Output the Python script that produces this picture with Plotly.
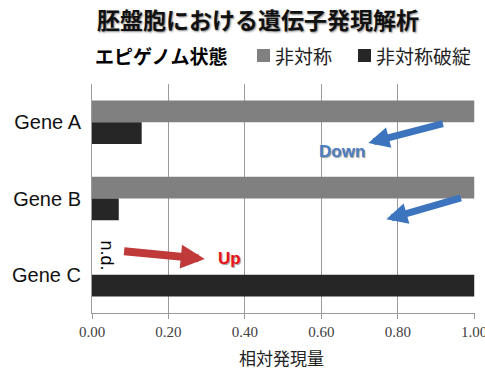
import plotly.graph_objects as go

# Data
genes = ["Gene A", "Gene B", "Gene C"]
series_names = ["非対称", "非対称破綻"]
series_colors = ["#808080", "#262626"]
asym = [1.00, 1.00, 0.00]          # 非対称 (Gene C: n.d.)
asym_broken = [0.13, 0.07, 1.00]   # 非対称破綻
x_ticks = [0.0, 0.2, 0.4, 0.6, 0.8, 1.0]
x_tick_labels = ["0.00", "0.20", "0.40", "0.60", "0.80", "1.00"]

JP = "Noto Sans CJK JP"
W, H = 485, 371
M_L, M_R, M_T, M_B = 92, 10, 84, 58


def px_x(px):
    """Pixel column -> paper x."""
    return (px - M_L) / (W - M_L - M_R)


def px_y(py):
    """Pixel row -> paper y."""
    return (H - M_B - py) / (H - M_T - M_B)


fig = go.Figure()
for name, color, vals in zip(series_names, series_colors, [asym, asym_broken]):
    fig.add_trace(go.Bar(
        y=genes, x=vals, orientation="h", name=name,
        marker=dict(color=color, line=dict(width=0)),
        showlegend=False,
    ))

annotations = []
shapes = []


def arrow(x, y, ax, ay, color, width, size):
    annotations.append(dict(
        x=x, y=y, ax=ax, ay=ay, xref="x", yref="y", axref="x", ayref="y",
        text="", showarrow=True, arrowhead=2, arrowsize=size,
        arrowwidth=width, arrowcolor=color, standoff=0, startstandoff=0,
    ))


# Down arrows (blue)
arrow(0.723, 0.273, 0.922, 0.013, "#3C74BE", 7, 0.6)
arrow(0.770, 1.273, 0.969, 0.987, "#3C74BE", 7, 0.6)
# Up arrow (red)
arrow(0.295, 1.792, 0.080, 1.688, "#C03A3A", 8, 0.6)

annotations.append(dict(
    x=0.655, y=0.39, xref="x", yref="y", text="<b>Down</b>", showarrow=False,
    font=dict(family="Liberation Sans", size=17, color="#4A7EC4",
              shadow="1px 1px 1px #9a9a9a"),
))
annotations.append(dict(
    x=0.360, y=1.79, xref="x", yref="y", text="<b>Up</b>", showarrow=False,
    font=dict(family="Liberation Sans", size=17, color="#E8141A",
              shadow="1px 1px 1px #9a9a9a"),
))
annotations.append(dict(
    x=0.040, y=1.75, xref="x", yref="y", text="n.d.", showarrow=False,
    textangle=90, font=dict(family="Liberation Sans", size=18, color="#000000"),
))

# Axis title below the tick labels
annotations.append(dict(
    x=px_x(281), y=px_y(357), xref="paper", yref="paper",
    xanchor="center", yanchor="middle", text="相対発現量", showarrow=False,
    font=dict(family=JP, size=17, color="#222222"),
))

# Legend row: title, then a swatch + label for each series
legend_y = px_y(55)
annotations.append(dict(
    x=px_x(93), y=legend_y, xref="paper", yref="paper", xanchor="left",
    yanchor="middle", text="<b>エピゲノム状態</b>", showarrow=False,
    font=dict(family=JP, size=19, color="#000000"),
))
for name, color, sx in zip(series_names, series_colors, [257, 358]):
    shapes.append(dict(
        type="rect", xref="paper", yref="paper",
        x0=px_x(sx), x1=px_x(sx + 13), y0=px_y(62), y1=px_y(49),
        fillcolor=color, line=dict(width=0),
    ))
    annotations.append(dict(
        x=px_x(sx + 16), y=legend_y, xref="paper", yref="paper",
        xanchor="left", yanchor="middle", text=name, showarrow=False,
        font=dict(family=JP, size=19, color="#222222"),
    ))

fig.update_layout(
    width=W, height=H,
    margin=dict(l=M_L, r=M_R, t=M_T, b=M_B, autoexpand=False),
    paper_bgcolor="white", plot_bgcolor="white",
    barmode="group", bargap=0.43, bargroupgap=0,
    showlegend=False,
    title=dict(
        text="<b>胚盤胞における遺伝子発現解析</b>",
        x=0.532, xanchor="center", y=0.943, yanchor="middle",
        font=dict(family=JP, size=23, color="#111111",
                  shadow="1px 1px 2px #8a8a8a"),
    ),
    xaxis=dict(
        range=[0, 1.002], tickvals=x_ticks, ticktext=x_tick_labels,
        showgrid=True, gridcolor="#9a9a9a", gridwidth=1,
        showline=True, linecolor="#9a9a9a", linewidth=1,
        ticks="outside", ticklen=5, tickcolor="#9a9a9a",
        ticklabeloverflow="allow", automargin=False,
        tickfont=dict(family="Liberation Serif", size=15, color="#404040"),
        zeroline=False, fixedrange=True,
    ),
    yaxis=dict(
        autorange="reversed", showgrid=False, automargin=False,
        showline=True, linecolor="#9a9a9a", linewidth=1,
        ticks="", ticklabelstandoff=6,
        tickfont=dict(family="Liberation Sans", size=20, color="#111111"),
        fixedrange=True,
    ),
    annotations=annotations,
    shapes=shapes,
)

fig.write_html("out.html")
